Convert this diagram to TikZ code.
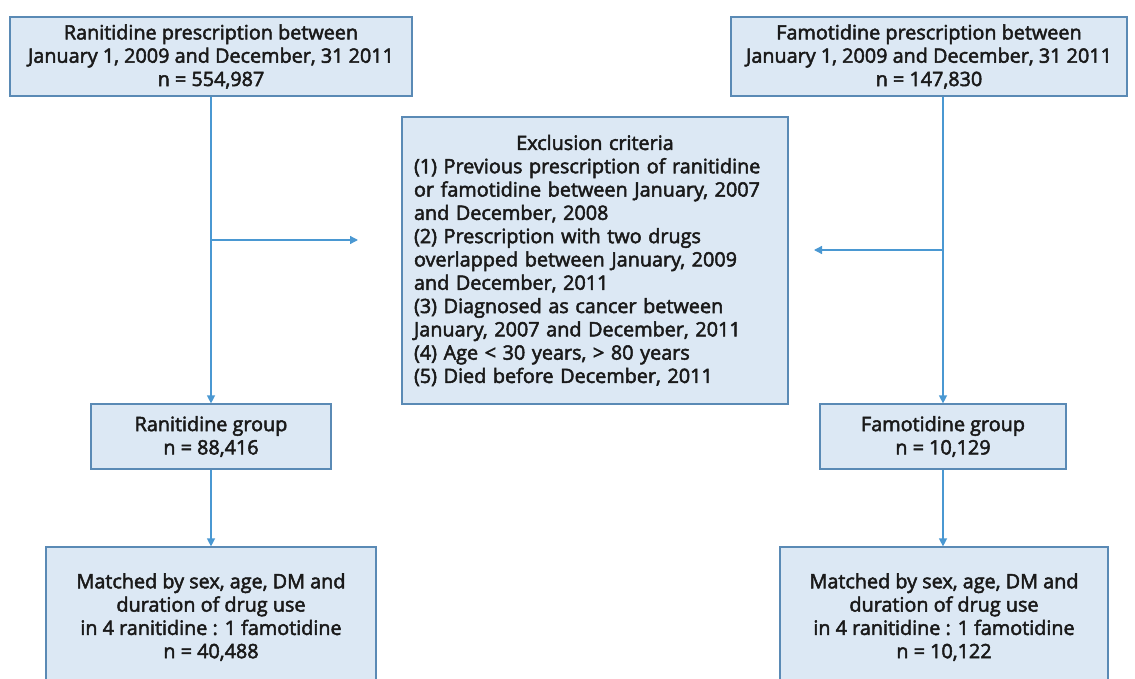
\documentclass[tikz,border=0pt]{standalone}
\usepackage{fontspec}
\setmainfont{Open Sans}[FakeBold=2.5]
\usetikzlibrary{arrows.meta,calc}
\definecolor{boxfill}{HTML}{DCE8F4}
\definecolor{boxline}{HTML}{5A8AB5}
\definecolor{arrowc}{HTML}{4A98D2}
\definecolor{txt}{HTML}{1A1A1A}
\begin{document}
\begin{tikzpicture}[x=1pt,y=-1pt,
  box/.style={draw=boxline, fill=boxfill, line width=1.2pt, inner sep=0pt, align=center, text=txt, font=\fontsize{19.8}{23.3}\selectfont},
  conn/.style={draw=arrowc, line width=1.3pt},
  arr/.style={conn, -{Triangle[length=8pt,width=8pt]}}]
\useasboundingbox (0,0) rectangle (1135,679);
\clip (0,0) rectangle (1135,679);
\node[box, minimum width=402pt, minimum height=79pt] (ranP) at (211,56.5)
  {Ranitidine prescription between\\January 1, 2009 and December, 31 2011\\n = 554,987};
\node[box, minimum width=396pt, minimum height=79pt] (famP) at (929,56.5)
  {Famotidine prescription between\\January 1, 2009 and December, 31 2011\\n = 147,830};
\node[box, minimum width=386pt, minimum height=287pt, text width=362pt, align=left] (excl) at (595,260.5)
  {\makebox[\linewidth][c]{Exclusion criteria}\\
   (1) Previous prescription of ranitidine\\
   or famotidine between January, 2007\\
   and December, 2008\\
   (2) Prescription with two drugs\\
   overlapped between January, 2009\\
   and December, 2011\\
   (3) Diagnosed as cancer between\\
   January, 2007 and December, 2011\\
   (4) Age < 30 years, > 80 years\\
   (5) Died before December, 2011};
\node[box, minimum width=240pt, minimum height=65pt] (ranG) at (211,436.5)
  {Ranitidine group\\n = 88,416};
\node[box, minimum width=246pt, minimum height=65pt] (famG) at (943,436.5)
  {Famotidine group\\n = 10,129};
\node[box, minimum width=330pt, minimum height=140pt] (ranM) at (211,617)
  {Matched by sex, age, DM and\\duration of drug use\\in 4 ranitidine : 1 famotidine\\n = 40,488};
\node[box, minimum width=328pt, minimum height=140pt] (famM) at (944,617)
  {Matched by sex, age, DM and\\duration of drug use\\in 4 ranitidine : 1 famotidine\\n = 10,122};
\coordinate (lbr) at (211,240);
\coordinate (lend) at (358,240);
\coordinate (rbr) at (943,250);
\coordinate (rend) at (814,250);
\draw[arr] (ranP.south) -- (ranG.north);
\draw[arr] (lbr) -- (lend);
\draw[arr] (famP.south -| famG.north) -- (famG.north);
\draw[arr] (rbr) -- (rend);
\draw[arr] (ranG.south) -- (ranM.north);
\draw[arr] (famG.south) -- (famM.north -| famG.south);
\end{tikzpicture}
\end{document}
